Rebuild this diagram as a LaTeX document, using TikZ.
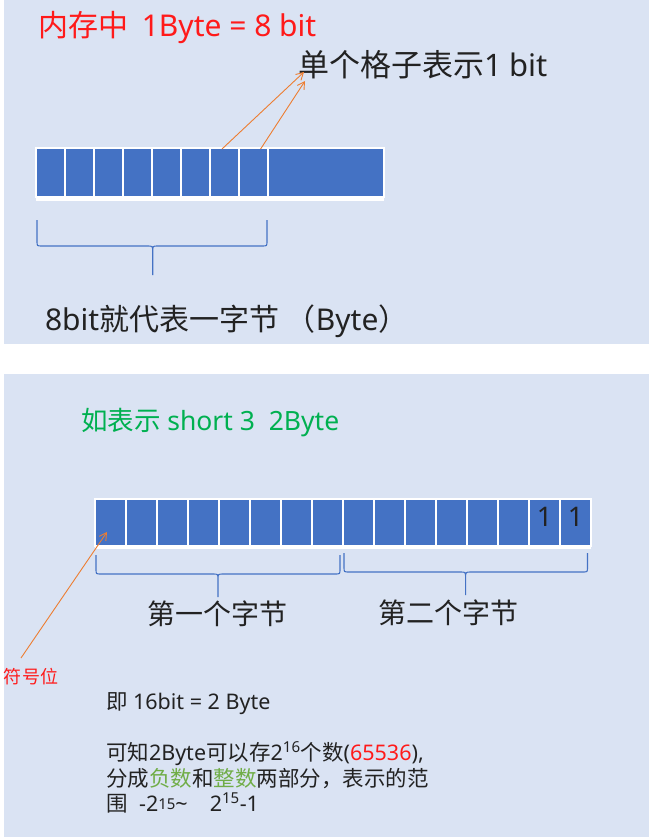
\documentclass[tikz,border=0pt]{standalone}
\usepackage{fontspec}
\setmainfont{Noto Sans CJK SC}
\newfontfamily\latfont{Noto Sans}
\newcommand{\LatRun}[1]{{\latfont #1}}
\usetikzlibrary{arrows.meta}
\definecolor{panel}{HTML}{DAE3F3}
\definecolor{cellblue}{HTML}{4472C4}
\definecolor{arroworange}{HTML}{ED7D31}
\definecolor{titlered}{HTML}{FF1A1A}
\definecolor{headgreen}{HTML}{00B050}
\definecolor{wordgreen}{HTML}{70AD47}
\definecolor{textdark}{HTML}{222222}
\newcommand{\fsz}[1]{\fontsize{#1}{#1}\selectfont}
\newcommand{\bracepath}[6]{%
  \draw[bracestyle] (#1,#4) -- (#1,#5-5) .. controls (#1,#5) .. (#1+5,#5) -- (#3-5,#5)
    .. controls (#3,#5) .. (#3,#5+6) -- (#3,#6)
    (#3,#5+6) .. controls (#3,#5) .. (#3+5,#5) -- (#2-5,#5)
    .. controls (#2,#5) .. (#2,#5-5) -- (#2,#4);}
\begin{document}
\begin{tikzpicture}[x=1pt,y=-1pt,
  cellbox/.style={draw=white,fill=cellblue,line width=2pt,inner sep=0pt,outer sep=0pt,anchor=north west},
  bracestyle/.style={draw=cellblue,line width=1.1pt},
  pointer/.style={draw=arroworange,line width=0.9pt,-{Straight Barb[length=7pt,width=8pt]}},
  txt/.style={anchor=base west,inner sep=0pt,outer sep=0pt,text=textdark}
]
\useasboundingbox (0,0) rectangle (649,837);
\fill[white] (0,0) rectangle (649,837);
\fill[panel] (4,0) rectangle (649,344);
\fill[panel] (4,374) rectangle (649,837);

% ---------- top panel ----------
\node[txt,text=titlered,font=\fsz{30}] (title) at (38,36.5) {内存中\hspace{6pt}\LatRun{ 1Byte = 8 bit}};
\node[txt,font=\fsz{31}] (lbl) at (298,76.5) {单个格子表示\LatRun{1 bit}};

\fill[white] (36,147) rectangle (384,201);
\foreach \i in {0,...,7}
  \node[cellbox,minimum width=29pt,minimum height=49pt] (a\i) at (36+29*\i,148) {};
\node[cellbox,minimum width=116pt,minimum height=49pt] (abig) at (268,148) {};

\coordinate (s1) at (222,149);
\coordinate (s2) at (260.6,149);
\coordinate (e1) at (304,72);
\coordinate (e2) at (305,81);
\draw[pointer] (s1) -- (e1);
\draw[pointer] (s2) -- (e2);

\bracepath{37}{267}{152.7}{220}{246}{275}
\node[txt,font=\fsz{30}] (bytelbl) at (45,330) {\LatRun{8bit}就代表一字节 （\LatRun{Byte}）};

% ---------- bottom panel ----------
\node[txt,text=headgreen,font=\fsz{26.5}] (head) at (81,430) {如表示\LatRun{ short 3\ \ 2Byte}};

\fill[white] (95,498) rectangle (591,549);
\foreach \i in {0,...,15}
  \node[cellbox,minimum width=31pt,minimum height=47pt] (b\i) at (95+31*\i,498.5) {};
\node[anchor=base,inner sep=0pt,font=\fsz{27}\latfont,text=textdark] (d1) at (544.5,526.5) {1};
\node[anchor=base,inner sep=0pt,font=\fsz{27}\latfont,text=textdark] (d2) at (575.5,526.5) {1};

\bracepath{96}{340}{218}{555}{574}{597}
\bracepath{344}{587.5}{465.6}{553}{572}{595}
\node[txt,font=\fsz{28}] (byte1) at (147,624) {第一个字节};
\node[txt,font=\fsz{28}] (byte2) at (378,623) {第二个字节};

\node[txt,text=titlered,font=\fsz{18}] (sign) at (4,683) {符号位};
\coordinate (s3) at (21,658);
\coordinate (e3) at (107,532);
\draw[pointer] (s3) -- (e3);

\node[txt,font=\fsz{21.5}] (t1) at (106,709) {即\LatRun{ 16bit = 2 Byte}};
\node[txt,font=\fsz{21.5}] (t2) at (106,760) {可知\LatRun{2Byte}可以存\LatRun{2\textsuperscript{16}}个数\LatRun{(\textcolor{titlered}{65536}),}};
\node[txt,font=\fsz{21.5}] (t3) at (106,786) {分成\textcolor{wordgreen}{负数}和\textcolor{wordgreen}{整数}两部分，表示的范};
\node[txt,font=\fsz{21.5}] (t4) at (106,811) {围\hspace{6pt}\LatRun{ -2\raisebox{1.5pt}{\fsz{15}15}\textasciitilde\hspace{22pt}2\textsuperscript{15}-1}};
\end{tikzpicture}
\end{document}
